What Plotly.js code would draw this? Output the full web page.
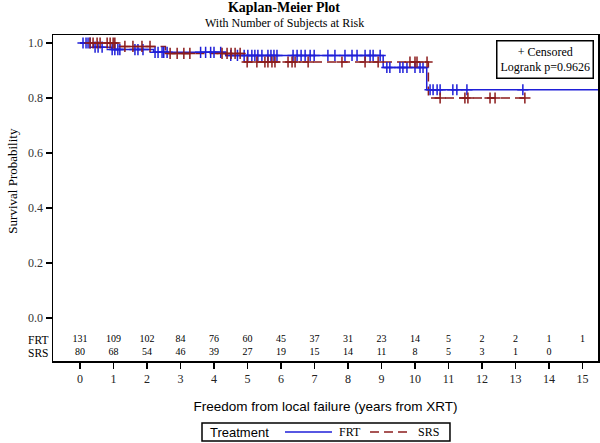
<!DOCTYPE html>
<html>
<head>
<meta charset="utf-8">
<script src="https://cdn.plot.ly/plotly-3.0.1.min.js"></script>
<style>html,body{margin:0;padding:0;background:#fff;}#chart{width:600px;height:443px;}</style>
</head>
<body>
<div id="chart"></div>
<script>
// Kaplan-Meier step points (time in years, survival probability)
const frtTimes = [0, 0.40, 0.95, 2.20, 4.35, 9.05, 10.35, 15.6];
const frtSurv  = [1.0, 0.985, 0.976, 0.966, 0.955, 0.911, 0.830, 0.830];
const srsTimes = [0, 1.15, 2.55, 4.90, 10.40, 13.34];
const srsSurv  = [1.0, 0.9875, 0.962, 0.931, 0.800, 0.800];

// Censoring times
const frtCensor = [0.09,0.18,0.24,0.30,0.45,0.54,0.66,0.96,1.04,1.13,1.19,1.64,1.73,1.88,
  2.24,2.33,2.45,2.50,2.60,3.60,3.75,3.90,4.00,4.20,4.50,4.70,4.90,
  5.01,5.13,5.22,5.31,5.43,5.61,5.70,5.79,5.88,6.36,6.48,6.60,6.72,6.87,6.99,7.40,7.61,7.91,
  8.12,8.27,8.51,8.66,8.75,8.96,9.16,9.25,9.55,9.64,9.76,10.00,10.15,10.24,
  10.45,10.54,10.66,10.75,11.13,11.25,11.55,13.22];
const srsCensor = [0.30,0.39,0.51,0.60,0.81,0.90,0.99,1.04,1.34,1.58,1.85,2.09,
  2.69,2.90,3.10,3.28,4.24,4.39,4.51,4.63,4.78,4.99,5.28,5.52,5.61,5.73,5.82,6.21,6.33,6.42,
  6.81,7.82,8.51,8.90,9.85,10.00,10.06,10.36,10.75,11.49,11.58,12.24,12.39,13.28];

// Number at risk
const riskTimes = [0,1,2,3,4,5,6,7,8,9,10,11,12,13,14,15];
const frtAtRisk = [131,109,102,84,76,60,45,37,31,23,14,5,2,2,1,1];
const srsAtRisk = [80,68,54,46,39,27,19,15,14,11,8,5,3,1,0];

const groupNames = ['FRT','SRS'];
const legendTitle = 'Treatment';
const pValueText = 'Logrank p=0.9626';

function survAt(times, surv, t) {
  let s = surv[0];
  for (let i = 0; i < times.length; i++) { if (times[i] <= t) s = surv[i]; }
  return s;
}

const blue = '#1f1fd8';
const red = '#8c1c1c';
const redDash = '9px,5px';
const serif = 'Liberation Serif, Times New Roman, serif';
const sans = 'Liberation Sans, Arial, sans-serif';

const yFRT = -0.080, ySRS = -0.127;

const traces = [
  {x: frtTimes, y: frtSurv, mode: 'lines', line: {shape: 'hv', color: blue, width: 1.5}, name: groupNames[0]},
  {x: srsTimes, y: srsSurv, mode: 'lines', line: {shape: 'hv', color: red, width: 1.5, dash: redDash}, name: groupNames[1]},
  {x: frtCensor, y: frtCensor.map(t => survAt(frtTimes, frtSurv, t)), mode: 'markers',
   marker: {symbol: 'cross-thin', size: 8, color: blue, line: {color: blue, width: 1.5}}, hoverinfo: 'skip'},
  {x: srsCensor, y: srsCensor.map(t => survAt(srsTimes, srsSurv, t)), mode: 'markers',
   marker: {symbol: 'cross-thin', size: 8, color: red, line: {color: red, width: 1.5}}, hoverinfo: 'skip'},
  {x: riskTimes.slice(0, frtAtRisk.length), y: frtAtRisk.map(() => yFRT), text: frtAtRisk.map(String), mode: 'text',
   textfont: {family: serif, size: 10, color: '#000'}, hoverinfo: 'skip'},
  {x: riskTimes.slice(0, srsAtRisk.length), y: srsAtRisk.map(() => ySRS), text: srsAtRisk.map(String), mode: 'text',
   textfont: {family: serif, size: 10, color: '#000'}, hoverinfo: 'skip'}
];

// legend box geometry (paper coordinates)
const lg = {x0: 0.2734, x1: 0.7284, y0: -0.2454, y1: -0.1902};
const lgMid = (lg.y0 + lg.y1) / 2;

const layout = {
  width: 600, height: 443,
  margin: {l: 53, r: 2, t: 35, b: 82},
  paper_bgcolor: '#fff', plot_bgcolor: '#fff',
  showlegend: false,
  title: {text: '<b>Kaplan-Meier Plot</b>', font: {family: serif, size: 14, color: '#000'},
          x: 0.4733, xanchor: 'center', xref: 'container', y: 0.985, yref: 'container', yanchor: 'middle'},
  xaxis: {
    range: [-0.806, 15.463], tickvals: riskTimes, ticktext: riskTimes.map(String),
    ticks: 'outside', ticklen: 6, tickwidth: 1.5, tickcolor: '#000',
    showline: true, linecolor: '#000', linewidth: 1.5, mirror: true,
    showgrid: false, zeroline: false,
    tickfont: {family: serif, size: 12, color: '#222'},
    title: {text: 'Freedom from local failure (years from XRT)', font: {family: sans, size: 13.5, color: '#000'}, standoff: 16}
  },
  yaxis: {
    range: [-0.1564, 1.0291], tickvals: [0, 0.2, 0.4, 0.6, 0.8, 1.0], ticktext: ['0.0','0.2','0.4','0.6','0.8','1.0'],
    ticks: 'outside', ticklen: 6, tickwidth: 1.5, tickcolor: '#000',
    showline: true, linecolor: '#000', linewidth: 1.5, mirror: true,
    showgrid: false, zeroline: false,
    tickfont: {family: serif, size: 12, color: '#333'}
  },
  shapes: [
    {type: 'rect', xref: 'paper', yref: 'paper', x0: lg.x0, x1: lg.x1, y0: lg.y0, y1: lg.y1,
     line: {color: '#000', width: 1.5}, fillcolor: 'rgba(0,0,0,0)'},
    {type: 'line', xref: 'paper', yref: 'paper', x0: 0.4257, x1: 0.5119, y0: lgMid, y1: lgMid,
     line: {color: blue, width: 1.5}},
    {type: 'line', xref: 'paper', yref: 'paper', x0: 0.5817, x1: 0.6587, y0: lgMid, y1: lgMid,
     line: {color: red, width: 1.5, dash: redDash}}
  ],
  annotations: [
    {text: 'With Number of Subjects at Risk', xref: 'paper', yref: 'paper', x: 0.424, y: 1.038,
     xanchor: 'center', yanchor: 'middle', showarrow: false, font: {family: serif, size: 12, color: '#000'}},
    {text: 'Survival Probability', textangle: -90, xref: 'paper', yref: 'y', x: -0.075, y: 0.5,
     xanchor: 'center', yanchor: 'middle', showarrow: false, font: {family: serif, size: 13, color: '#000'}},
    {text: groupNames[0], xref: 'paper', yref: 'y', x: 0, y: yFRT, xanchor: 'right', yanchor: 'middle', xshift: -3,
     showarrow: false, font: {family: serif, size: 11.5, color: '#000'}},
    {text: groupNames[1], xref: 'paper', yref: 'y', x: 0, y: ySRS, xanchor: 'right', yanchor: 'middle', xshift: -3,
     showarrow: false, font: {family: serif, size: 11.5, color: '#000'}},
    {text: '+ Censored<br>' + pValueText, xref: 'paper', yref: 'paper', x: 0.9927, y: 0.985,
     xanchor: 'right', yanchor: 'top', align: 'center', showarrow: false, bgcolor: '#fff',
     bordercolor: '#000', borderwidth: 1.5, borderpad: 3, font: {family: serif, size: 12, color: '#000'}},
    {text: legendTitle, xref: 'paper', yref: 'paper', x: 0.2844, y: lgMid, xanchor: 'left', yanchor: 'middle',
     showarrow: false, font: {family: sans, size: 13, color: '#000'}},
    {text: groupNames[0], xref: 'paper', yref: 'paper', x: 0.5211, y: lgMid, xanchor: 'left', yanchor: 'middle',
     showarrow: false, font: {family: serif, size: 12, color: '#000'}},
    {text: groupNames[1], xref: 'paper', yref: 'paper', x: 0.6661, y: lgMid, xanchor: 'left', yanchor: 'middle',
     showarrow: false, font: {family: serif, size: 12, color: '#000'}}
  ]
};

Plotly.newPlot('chart', traces, layout, {staticPlot: true, displayModeBar: false});
</script>
</body>
</html>
